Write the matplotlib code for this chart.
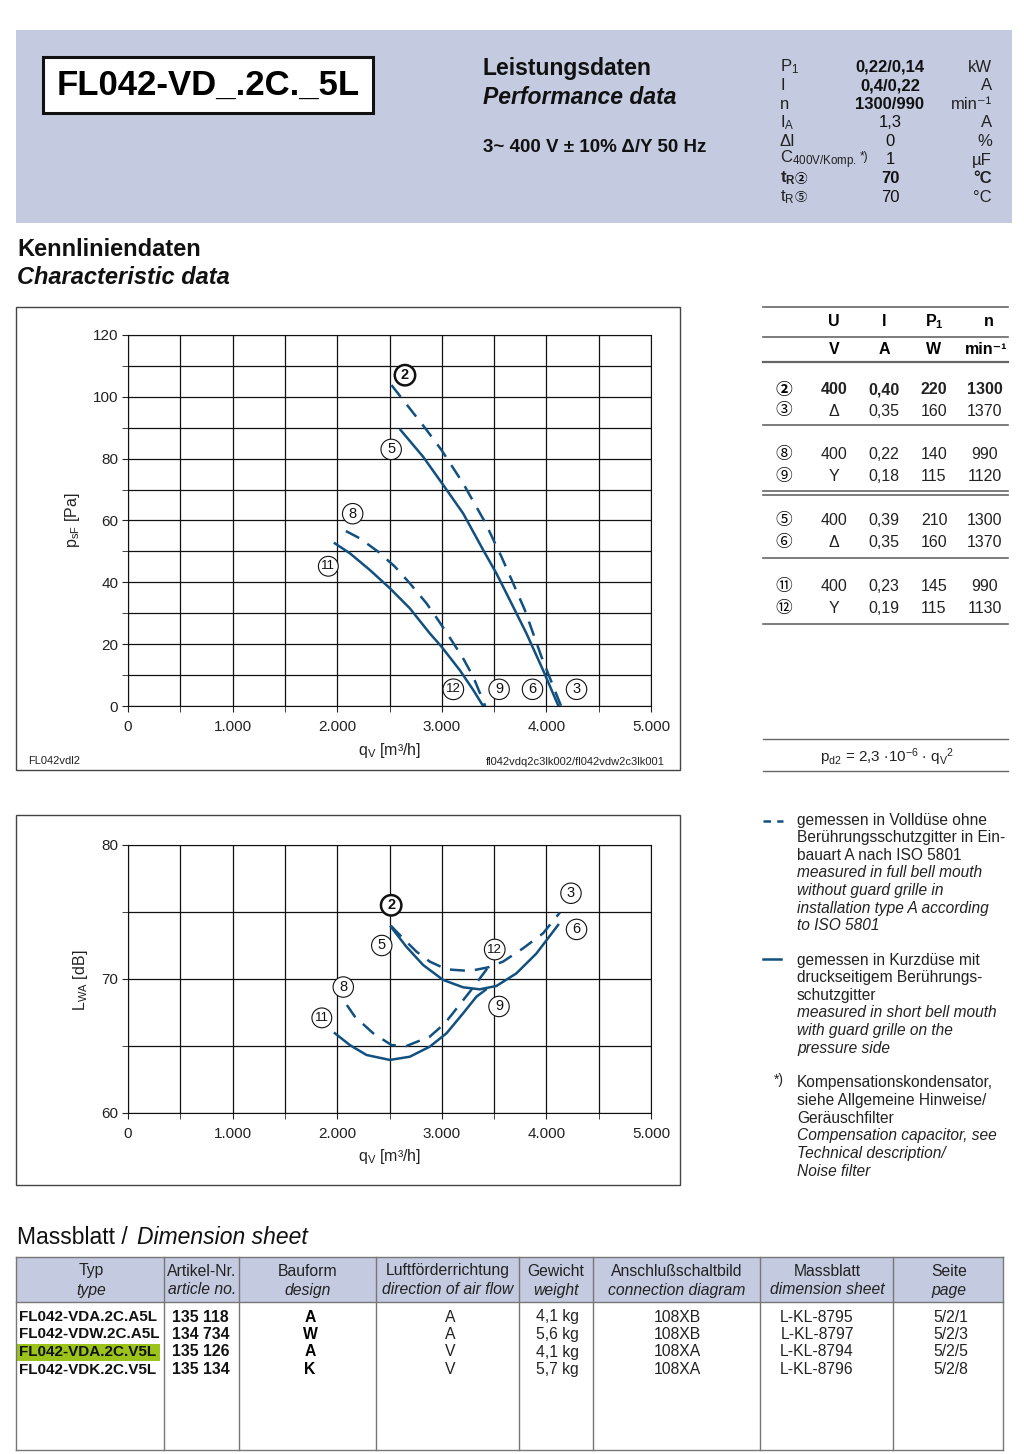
import numpy as np
import matplotlib
matplotlib.use("Agg")
import matplotlib.pyplot as plt
from matplotlib.lines import Line2D
from matplotlib.patches import Rectangle
from matplotlib.ticker import MultipleLocator, FuncFormatter

plt.rcParams['font.family'] = ['Liberation Sans', 'DejaVu Sans']
plt.rcParams['mathtext.fontset'] = 'custom'
plt.rcParams['mathtext.rm'] = 'Liberation Sans'
plt.rcParams['mathtext.it'] = 'Liberation Sans:italic'
plt.rcParams['mathtext.bf'] = 'Liberation Sans:bold'
plt.rcParams['mathtext.default'] = 'regular'

# --- Kennlinien: Druck p_sF [Pa] ueber q_V [m3/h] ---
q2 = [2519, 2854, 2997, 3204, 3411, 3570, 3682, 3793, 3952, 4140]
p2 = [103.8, 89.3, 82.8, 72.0, 59.6, 48.3, 39.7, 31.1, 16.0, 0]
q5 = [2605, 2822, 3013, 3204, 3395, 3522, 3666, 3809, 3968, 4115]
p5 = [89.3, 80.6, 71.5, 62.3, 50.5, 42.9, 33.2, 23.5, 11.6, 0]
q8 = [2083, 2217, 2392, 2551, 2694, 2854, 2965, 3092, 3204, 3300, 3415]
p8 = [56.6, 54.2, 49.9, 45.1, 39.7, 33.2, 27.8, 21.3, 15.4, 9.5, 0]
q11 = [1978, 2121, 2312, 2503, 2694, 2885, 2997, 3172, 3300, 3395]
p11 = [52.6, 49.4, 44.0, 38.1, 31.6, 23.5, 19.2, 11.6, 5.2, 0]

# --- Geraeusch L_WA [dB] ueber q_V ---
lq2 = [2513, 2630, 2758, 2885, 3045, 3268, 3443, 3586, 3777, 3968, 4128]
lw2 = [73.98, 73.03, 72.04, 71.3, 70.72, 70.6, 70.87, 71.3, 72.29, 73.41, 74.95]
lq5 = [2513, 2662, 2822, 3013, 3204, 3363, 3522, 3713, 3904, 4112]
lw5 = [73.9, 72.4, 71.04, 69.93, 69.38, 69.23, 69.48, 70.42, 71.9, 74.03]
lq8 = [2092, 2169, 2344, 2519, 2662, 2885, 3029, 3156, 3268, 3443]
lw8 = [68.06, 67.19, 65.95, 65.07, 65.0, 65.7, 66.69, 67.94, 69.05, 70.87]
lq11 = [1978, 2121, 2280, 2503, 2694, 2885, 3045, 3204, 3331, 3420]
lw11 = [65.95, 65.07, 64.33, 63.96, 64.2, 64.95, 65.95, 67.44, 68.68, 69.2]

# Kurvenbeschriftungen (Nummer, q, Wert)
lab_p = [('2', 2648, 107), ('5', 2516, 83), ('8', 2148, 62.2), ('11', 1915, 45.2),
         ('12', 3110, 5.4), ('9', 3548, 5.4), ('6', 3867, 5.4), ('3', 4288, 5.4)]
lab_l = [('2', 2516, 75.5), ('5', 2426, 72.5), ('8', 2058, 69.4), ('11', 1853, 67.1),
         ('12', 3506, 72.2), ('9', 3547, 67.95), ('3', 4235, 76.4), ('6', 4288, 73.7)]

# Betriebspunkte-Tabelle
op_ids = ['②', '③', '⑧', '⑨', '⑤', '⑥', '⑪', '⑫']
op_U = ['400', 'Δ', '400', 'Y', '400', 'Δ', '400', 'Y']
op_I = ['0,40', '0,35', '0,22', '0,18', '0,39', '0,35', '0,23', '0,19']
op_P = ['220', '160', '140', '115', '210', '160', '145', '115']
op_n = ['1300', '1370', '990', '1120', '1300', '1370', '990', '1130']

# Leistungsdaten
par_lbl = [r'P$_1$', 'I', 'n', r'I$_A$', 'ΔI', r'C$_{400V/Komp.}$', r't$_R$', r't$_R$']
par_val = ['0,22/0,14', '0,4/0,22', '1300/990', '1,3', '0', '1', '70', '70']
par_unit = ['kW', 'A', 'min⁻¹', 'A', '%', 'µF', '°C', '°C']
val_bold = [True, True, True, False, False, False, True, False]
lbl_bold = [False, False, False, False, False, False, True, False]

# Massblatt
m_typ = ['FL042-VDA.2C.A5L', 'FL042-VDW.2C.A5L', 'FL042-VDA.2C.V5L', 'FL042-VDK.2C.V5L']
m_art = ['135 118', '134 734', '135 126', '135 134']
m_bau = ['A', 'W', 'A', 'K']
m_luft = ['A', 'A', 'V', 'V']
m_gew = ['4,1 kg', '5,6 kg', '4,1 kg', '5,7 kg']
m_ans = ['108XB', '108XB', '108XA', '108XA']
m_mb = ['L-KL-8795', 'L-KL-8797', 'L-KL-8794', 'L-KL-8796']
m_seite = ['5/2/1', '5/2/3', '5/2/5', '5/2/8']

W, H = 1024, 1454
BLUE = '#12507f'
BAND = '#c4cae0'
fig = plt.figure(figsize=(W / 100, H / 100), dpi=100)


def fx(x):
    return x / W


def fy(y):
    return 1 - y / H


def txt(x, y, s, **kw):
    kw.setdefault('va', 'center')
    return fig.text(fx(x), fy(y), s, **kw)


def hline(x0, x1, y, lw=1.2, color='#666666', **kw):
    fig.add_artist(Line2D([fx(x0), fx(x1)], [fy(y), fy(y)], transform=fig.transFigure,
                          lw=lw, color=color, **kw))


def vline(x, y0, y1, lw=1.0, color='#777777'):
    fig.add_artist(Line2D([fx(x), fx(x)], [fy(y0), fy(y1)], transform=fig.transFigure,
                          lw=lw, color=color))


def rect(x0, y0, x1, y1, **kw):
    fig.add_artist(Rectangle((fx(x0), fy(y1)), fx(x1) - fx(x0), fy(y0) - fy(y1),
                             transform=fig.transFigure, **kw))


CIRC = ['Noto Sans CJK JP', 'DejaVu Sans']

# ---------------- Kopfbereich ----------------
rect(16, 30, 1012, 223, fc=BAND, ec='none')
rect(43, 57, 373, 113, fc='white', ec='#111111', lw=2.2)
txt(57, 85, 'FL042-VD_.2C._5L', fontsize=25, fontweight='bold')
txt(483, 69, 'Leistungsdaten', fontsize=16.5, fontweight='bold', color='#111111')
txt(483, 98, 'Performance data', fontsize=16.5, fontweight='bold', style='italic', color='#111111')
txt(483, 147, '3~ 400 V ± 10% Δ/Y 50 Hz', fontsize=13.5, fontweight='bold', color='#111111')

for i in range(len(par_lbl)):
    y = 67 + i * 18.6
    txt(780, y, par_lbl[i], fontsize=12, color='#222222',
        fontweight='bold' if lbl_bold[i] else 'normal')
    txt(890, y, par_val[i], fontsize=12, ha='center',
        fontweight='bold' if val_bold[i] else 'normal', color='#111111')
    txt(992, y, par_unit[i], fontsize=12, ha='right',
        fontweight='bold' if i == 6 else 'normal', color='#222222')
txt(860, 157, '*)', fontsize=8.5, color='#222222')
txt(801, 180, '②', fontsize=9, ha='center', family=CIRC, fontweight='bold')
txt(801, 198, '⑤', fontsize=9, ha='center', family=CIRC)

txt(17, 249, 'Kennliniendaten', fontsize=17, fontweight='bold', color='#111111')
txt(17, 278, 'Characteristic data', fontsize=17, fontweight='bold', style='italic', color='#111111')


# ---------------- Diagramme ----------------
def setup(ax, ymaj, ymin):
    ax.set_xlim(0, 5000)
    ax.xaxis.set_major_locator(MultipleLocator(1000))
    ax.xaxis.set_minor_locator(MultipleLocator(500))
    ax.yaxis.set_major_locator(MultipleLocator(ymaj))
    ax.yaxis.set_minor_locator(MultipleLocator(ymin))
    ax.xaxis.set_major_formatter(FuncFormatter(lambda v, p: f'{int(v):,}'.replace(',', '.')))
    ax.grid(which='both', color='#111111', lw=0.9)
    ax.tick_params(which='both', direction='out', labelsize=11, colors='#222222', pad=3)
    ax.tick_params(axis='x', which='major', pad=6)
    ax.tick_params(which='major', length=4)
    ax.tick_params(which='minor', length=4)
    for s in ax.spines.values():
        s.set_color('#111111')
    ax.set_axisbelow(True)


def label(ax, s, x, y):
    bold = s == '2'
    ax.text(x, y, s, ha='center', va='center', fontsize=10.5 if len(s) == 1 else 9.5,
            fontweight='bold' if bold else 'normal', color='#111111', zorder=5,
            bbox=dict(boxstyle='circle,pad=0.22', fc='white', ec='#111111',
                      lw=1.8 if bold else 0.8))


rect(16, 307, 680, 770, fc='none', ec='#444444', lw=1.0)
ax1 = fig.add_axes([fx(128), fy(706), 523 / W, 371 / H])
ax1.set_ylim(0, 120)
setup(ax1, 20, 10)
ax1.plot(q2, p2, color=BLUE, lw=1.8, dashes=(6, 4))
ax1.plot(q5, p5, color=BLUE, lw=1.8)
ax1.plot(q8, p8, color=BLUE, lw=1.8, dashes=(6, 4))
ax1.plot(q11, p11, color=BLUE, lw=1.8)
for s, x, y in lab_p:
    label(ax1, s, x, y)
txt(72, 520, r'p$_{sF}$ [Pa]', fontsize=11.5, rotation=90, ha='center', color='#222222')
txt(390, 750, r'q$_V$ [m³/h]', fontsize=11.5, ha='center', color='#222222')
txt(28, 761, 'FL042vdl2', fontsize=8, color='#222222')
txt(665, 762, 'fl042vdq2c3lk002/fl042vdw2c3lk001', fontsize=8, ha='right', color='#222222')

rect(16, 815, 680, 1185, fc='none', ec='#444444', lw=1.0)
ax2 = fig.add_axes([fx(128), fy(1113), 523 / W, 268 / H])
ax2.set_ylim(60, 80)
setup(ax2, 10, 5)
ax2.plot(lq2, lw2, color=BLUE, lw=1.8, dashes=(6, 4))
ax2.plot(lq5, lw5, color=BLUE, lw=1.8)
ax2.plot(lq8, lw8, color=BLUE, lw=1.8, dashes=(6, 4))
ax2.plot(lq11, lw11, color=BLUE, lw=1.8)
for s, x, y in lab_l:
    label(ax2, s, x, y)
txt(80, 980, r'L$_{WA}$ [dB]', fontsize=11.5, rotation=90, ha='center', color='#222222')
txt(390, 1156, r'q$_V$ [m³/h]', fontsize=11.5, ha='center', color='#222222')

# ---------------- Betriebspunkte ----------------
cols = [834, 884, 934, 985]
hline(763, 1008, 307)
hline(763, 1008, 337)
hline(763, 1008, 362, lw=1.6)
txt(834, 322, 'U', fontsize=11.5, ha='center', fontweight='bold')
txt(884, 322, 'I', fontsize=11.5, ha='center', fontweight='bold')
txt(934, 322, r'P$_1$', fontsize=11.5, ha='center', fontweight='bold')
txt(989, 322, 'n', fontsize=11.5, ha='center', fontweight='bold')
txt(834, 350, 'V', fontsize=11.5, ha='center', fontweight='bold')
txt(884, 350, 'A', fontsize=11.5, ha='center', fontweight='bold')
txt(934, 350, 'W', fontsize=11.5, ha='center', fontweight='bold')
txt(1007, 350, 'min⁻¹', fontsize=11.5, ha='right', fontweight='bold')
row_y = [390, 411, 455, 477, 521, 543, 587, 609]
for i, y in enumerate(row_y):
    w = 'bold' if i == 0 else 'normal'
    txt(784, y, op_ids[i], fontsize=12, ha='center', family=CIRC, fontweight=w)
    for x, v in zip(cols, [op_U[i], op_I[i], op_P[i], op_n[i]]):
        txt(x, y, v, fontsize=11.5, ha='center', fontweight=w, color='#222222')
hline(763, 1008, 425)
hline(763, 1008, 491)
hline(763, 1008, 495)
hline(763, 1008, 558)
hline(763, 1008, 624)

hline(763, 1008, 739, lw=1.0)
hline(763, 1008, 771, lw=1.0)
txt(887, 757, r'p$_{d2}$ = 2,3 $\cdot$10$^{-6}$ $\cdot$ q$_V$$^2$', fontsize=11, ha='center', color='#222222')

# ---------------- Legende ----------------
hline(763, 783, 821, lw=1.8, color=BLUE, dashes=(3, 2.5))
hline(763, 781, 959, lw=1.8, color=BLUE)
leg1 = [('gemessen in Volldüse ohne', 'normal'), ('Berührungsschutzgitter in Ein-', 'normal'),
        ('bauart A nach ISO 5801', 'normal'), ('measured in full bell mouth', 'italic'),
        ('without guard grille in', 'italic'), ('installation type A according', 'italic'),
        ('to ISO 5801', 'italic')]
leg2 = [('gemessen in Kurzdüse mit', 'normal'), ('druckseitigem Berührungs-', 'normal'),
        ('schutzgitter', 'normal'), ('measured in short bell mouth', 'italic'),
        ('with guard grille on the', 'italic'), ('pressure side', 'italic')]
leg3 = [('Kompensationskondensator,', 'normal'), ('siehe Allgemeine Hinweise/', 'normal'),
        ('Geräuschfilter', 'normal'), ('Compensation capacitor, see', 'italic'),
        ('Technical description/', 'italic'), ('Noise filter', 'italic')]
for y0, block in [(820, leg1), (960, leg2), (1083, leg3)]:
    for k, (s, st) in enumerate(block):
        txt(797, y0 + k * 17.6, s, fontsize=11.2, style=st, color='#222222')
txt(774, 1080, '*)', fontsize=10, color='#222222')

# ---------------- Massblatt ----------------
txt(17, 1238, 'Massblatt /', fontsize=16.5, color='#111111')
txt(137, 1238, 'Dimension sheet', fontsize=16.5, style='italic', color='#111111')
rect(16, 1257, 1003, 1302, fc=BAND, ec='none')
hline(16, 1003, 1257, lw=1.0, color='#777777')
hline(16, 1003, 1302, lw=1.0, color='#777777')
hline(16, 1003, 1450, lw=1.0, color='#777777')
for x in [16, 164, 239, 376, 519, 593, 760, 893, 1003]:
    vline(x, 1257, 1450)
heads = [(91, 'Typ', 'type'), (202, 'Artikel-Nr.', 'article no.'), (308, 'Bauform', 'design'),
         (448, 'Luftförderrichtung', 'direction of air flow'), (556, 'Gewicht', 'weight'),
         (677, 'Anschlußschaltbild', 'connection diagram'), (827, 'Massblatt', 'dimension sheet'),
         (949, 'Seite', 'page')]
for x, de, en in heads:
    txt(x, 1271, de, fontsize=11.3, ha='center', color='#222222')
    txt(x, 1290, en, fontsize=11.3, ha='center', style='italic', color='#222222')
rect(17, 1344, 160, 1361, fc='#9bc31a', ec='none')
for i in range(len(m_typ)):
    y = 1317 + i * 17.5
    txt(19, y, m_typ[i], fontsize=11, fontweight='bold', color='#111111')
    txt(172, y, m_art[i], fontsize=11.3, fontweight='bold', color='#111111')
    txt(310, y, m_bau[i], fontsize=11.3, fontweight='bold', ha='center')
    txt(450, y, m_luft[i], fontsize=11.3, ha='center', color='#222222')
    txt(557, y, m_gew[i], fontsize=11.3, ha='center', color='#222222')
    txt(677, y, m_ans[i], fontsize=11.3, ha='center', color='#222222')
    txt(817, y, m_mb[i], fontsize=11.3, ha='center', color='#222222')
    txt(951, y, m_seite[i], fontsize=11.3, ha='center', color='#222222')

fig.savefig('out.png', dpi=100)
